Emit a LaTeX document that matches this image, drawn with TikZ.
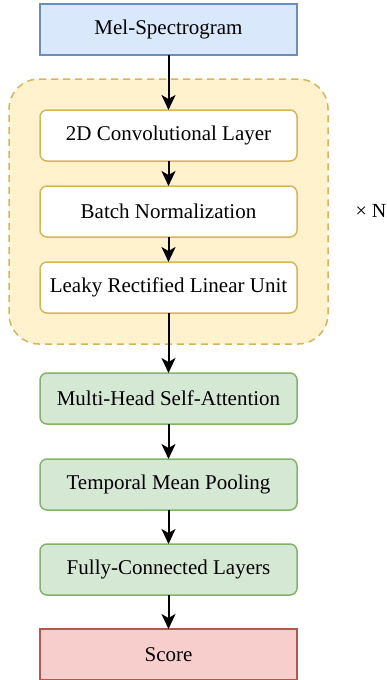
\documentclass[tikz,border=0pt]{standalone}
\usepackage{fontspec}
\setmainfont{Liberation Serif}
\usetikzlibrary{arrows.meta,positioning,fit,backgrounds}

\definecolor{melfill}{HTML}{DAE8FC}
\definecolor{meldraw}{HTML}{6C8EBF}
\definecolor{blockfill}{HTML}{FFF2CC}
\definecolor{blockdraw}{HTML}{D6B656}
\definecolor{headfill}{HTML}{D5E8D4}
\definecolor{headdraw}{HTML}{82B366}
\definecolor{scorefill}{HTML}{F8CECC}
\definecolor{scoredraw}{HTML}{B85450}

\begin{document}
\begin{tikzpicture}[
    box/.style={draw, line width=1.5pt, minimum width=257pt, minimum height=51pt,
        outer sep=0pt, font=\fontsize{21}{25}\selectfont},
    inbox/.style={box, draw=blockdraw, fill=white, rounded corners=7pt},
    headbox/.style={box, draw=headdraw, fill=headfill, rounded corners=7pt},
    flow/.style={-{Stealth[length=15pt,width=14pt,inset=4pt]}, line width=2pt}]
    \useasboundingbox (0pt,0pt) rectangle (386pt,-680pt);
    \node [box, draw=meldraw, fill=melfill] (mel) at (168.5pt,-29.5pt) {Mel-Spectrogram};
    \node [inbox] (conv) [below=55pt of mel] {2D Convolutional Layer};
    \node [inbox] (bn) [below=25pt of conv] {Batch Normalization};
    \node [inbox] (lrelu) [below=25pt of bn] {Leaky Rectified Linear Unit};
    \begin{scope}[on background layer]
        \node [fit=(conv) (lrelu), inner sep=31pt, draw=blockdraw, fill=blockfill,
            line width=1.5pt, dash pattern=on 7pt off 5pt, rounded corners=30pt] (block) {};
    \end{scope}
    \node [font=\fontsize{20}{24}\selectfont] (times) at (371pt,-211pt) {× N};
    \node [headbox] (mhsa) [below=60pt of lrelu] {Multi-Head Self-Attention};
    \node [headbox] (tmp) [below=35pt of mhsa] {Temporal Mean Pooling};
    \node [headbox] (fcl) [below=34pt of tmp] {Fully-Connected Layers};
    \node [box, draw=scoredraw, fill=scorefill] (score) [below=34pt of fcl] {Score};
    \draw [flow] (mel) -- (conv);
    \draw [flow] (conv) -- (bn);
    \draw [flow] (bn) -- (lrelu);
    \draw [flow] (lrelu) -- (mhsa);
    \draw [flow] (mhsa) -- (tmp);
    \draw [flow] (tmp) -- (fcl);
    \draw [flow] (fcl) -- (score);
\end{tikzpicture}
\end{document}
